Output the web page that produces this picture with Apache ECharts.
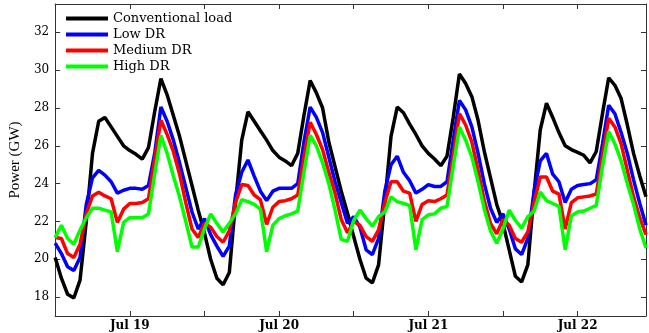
<!DOCTYPE html>
<html>
<head>
<meta charset="utf-8">
<script src="https://cdn.jsdelivr.net/npm/echarts@6/dist/echarts.min.js"></script>
<style>html,body{margin:0;padding:0;background:#fff}#c{width:649px;height:333px}</style>
</head>
<body>
<div id="c"></div>
<script>
const dayLabels = ['Jul 19', 'Jul 20', 'Jul 21', 'Jul 22'];
const yTicks = [18, 20, 22, 24, 26, 28, 30, 32];
const seriesNames = ['Conventional load', 'Low DR', 'Medium DR', 'High DR'];

// hourly values (GW), Jul 19 00:00 .. Jul 22 23:00
const conventional = [
  20.1, 19.0, 18.15, 17.95, 18.9, 22.0, 25.6, 27.3, 27.5, 27.0, 26.5, 26.0,
  25.75, 25.55, 25.3, 25.9, 27.8, 29.55, 28.7, 27.6, 26.5, 25.2, 23.9, 22.6,
  21.4, 20.0, 19.0, 18.65, 19.3, 23.0, 26.3, 27.8, 27.3, 26.8, 26.3, 25.75,
  25.4, 25.2, 24.95, 25.6, 27.6, 29.45, 28.8, 28.0, 26.2, 24.9, 23.6, 22.45,
  21.2, 20.0, 19.0, 18.75, 19.7, 23.0, 26.5, 28.05, 27.75, 27.15, 26.6, 26.0,
  25.6, 25.3, 24.95, 25.45, 27.5, 29.8, 29.3, 28.6, 27.35, 25.7, 24.3, 22.9,
  21.9, 20.5, 19.1, 18.8, 19.7, 23.5, 26.85, 28.25, 27.5, 26.7, 26.0, 25.8,
  25.65, 25.5, 25.1, 25.7, 27.7, 29.6, 29.2, 28.5, 27.1, 25.6, 24.4, 23.3
];
const lowDR = [
  20.85, 20.3, 19.6, 19.4, 20.1, 22.9, 24.3, 24.7, 24.45, 24.1, 23.5, 23.65,
  23.75, 23.75, 23.7, 23.9, 25.6, 28.05, 27.3, 26.3, 25.1, 23.8, 22.5, 21.6,
  22.15, 21.3, 20.7, 20.15, 20.7, 23.4, 24.6, 25.25, 24.4, 23.6, 23.1, 23.6,
  23.75, 23.75, 23.75, 24.0, 26.2, 28.05, 27.5, 26.7, 25.4, 24.1, 23.0, 21.9,
  22.25, 21.7, 20.5, 20.25, 21.1, 23.6, 25.0, 25.45, 24.6, 24.15, 23.5, 23.7,
  23.95, 23.85, 23.85, 24.1, 26.3, 28.4, 27.9, 27.0, 25.6, 24.0, 22.7, 21.95,
  22.4, 21.6, 20.55, 20.25, 21.1, 23.6, 25.2, 25.6, 24.5, 24.1, 23.0, 23.7,
  23.9, 23.95, 24.0, 24.2, 26.1, 28.15, 27.7, 26.7, 25.6, 24.2, 22.95, 21.8
];
const mediumDR = [
  21.15, 21.1, 20.3, 20.1, 20.8, 22.4, 23.35, 23.55, 23.35, 23.2, 21.95, 22.65,
  22.95, 22.95, 23.0, 23.2, 25.3, 27.35, 26.6, 25.7, 24.5, 23.0, 21.6, 21.15,
  21.9, 21.7, 21.2, 20.9, 21.5, 23.0, 23.95, 23.9, 23.4, 23.15, 21.85, 22.75,
  23.05, 23.1, 23.2, 23.4, 25.4, 27.25, 26.6, 25.8, 24.6, 23.5, 22.1, 21.4,
  22.0, 21.8, 21.2, 20.95, 21.55, 23.0, 24.1, 24.1, 23.6, 23.5, 22.0, 22.9,
  23.1, 23.05, 23.2, 23.4, 25.5, 27.7, 27.1, 26.2, 24.7, 23.1, 21.9, 21.35,
  22.1, 21.8, 21.1, 20.9, 21.45, 23.0, 24.35, 24.35, 23.6, 23.45, 21.6, 23.0,
  23.25, 23.3, 23.35, 23.45, 25.5, 27.45, 27.0, 26.1, 24.7, 23.3, 22.2, 21.3
];
const highDR = [
  21.15, 21.8, 21.1, 20.8, 21.55, 22.2, 22.7, 22.7, 22.6, 22.5, 20.4, 21.95,
  22.2, 22.2, 22.2, 22.4, 24.5, 26.55, 25.6, 24.4, 23.3, 22.0, 20.65, 20.65,
  21.6, 22.4, 21.9, 21.45, 21.9, 22.4, 23.15, 23.05, 22.9, 22.65, 20.4, 21.8,
  22.15, 22.3, 22.4, 22.55, 24.6, 26.55, 26.0, 25.1, 24.0, 22.6, 21.05, 20.95,
  22.05, 22.6, 22.15, 21.75, 22.25, 22.5, 23.3, 23.05, 22.95, 22.85, 20.5, 22.1,
  22.35, 22.4, 22.7, 22.8, 24.9, 27.0, 26.3, 25.4, 24.1, 22.65, 21.5, 20.85,
  21.6, 22.6, 22.05, 21.65, 22.25, 22.55, 23.55, 23.1, 22.95, 22.8, 20.5, 22.3,
  22.5, 22.55, 22.7, 22.85, 24.9, 26.75, 26.1, 25.2, 24.0, 22.9, 21.6, 20.6
];

const colors = ['#000000', '#0000ff', '#ff0000', '#00ff00'];
const allData = [conventional, lowDR, mediumDR, highDR];

const axisLineStyle = { color: '#333', width: 1 };
const chart = echarts.init(document.getElementById('c'), null, { renderer: 'canvas' });

const xCommon = {
  type: 'value', min: 0, max: 95, interval: 12,
  axisLine: { show: true, onZero: false, lineStyle: axisLineStyle },
  axisTick: { show: true, inside: true, length: 5, lineStyle: axisLineStyle },
  splitLine: { show: false }
};
const yCommon = {
  type: 'value', min: 17, max: 33.5,
  axisLine: { show: true, onZero: false, lineStyle: axisLineStyle },
  axisTick: { show: true, inside: true, length: 5, customValues: yTicks, lineStyle: axisLineStyle },
  splitLine: { show: false }
};

chart.setOption({
  animation: false,
  backgroundColor: '#fff',
  grid: { left: 52, top: 4, width: 598, height: 312, containLabel: false },
  legend: {
    orient: 'vertical', left: 61, top: 7, itemWidth: 42, itemHeight: 4, itemGap: 3,
    icon: 'rect',
    data: seriesNames,
    textStyle: { fontFamily: 'DejaVu Serif', fontSize: 13, color: '#000' }
  },
  xAxis: [
    Object.assign({}, xCommon, {
      position: 'bottom',
      axisLabel: {
        show: true, margin: 4, color: '#000', fontFamily: 'DejaVu Serif', fontWeight: 'bold', fontSize: 12,
        formatter: function (v) { return (v % 24 === 12) ? dayLabels[(v - 12) / 24] : ''; }
      }
    }),
    Object.assign({}, xCommon, { position: 'top', axisLabel: { show: false } })
  ],
  yAxis: [
    Object.assign({}, yCommon, {
      position: 'left',
      name: 'Power (GW)', nameLocation: 'middle', nameGap: 29,
      nameTextStyle: { fontFamily: 'Liberation Serif', fontSize: 15, color: '#000' },
      axisLabel: { show: true, customValues: yTicks, margin: 6, color: '#000', fontFamily: 'DejaVu Serif', fontSize: 12 }
    }),
    Object.assign({}, yCommon, { position: 'right', axisLabel: { show: false } })
  ],
  series: seriesNames.map(function (name, k) {
    return {
      name: name, type: 'line', xAxisIndex: 0, yAxisIndex: 0,
      showSymbol: false, symbol: 'none', smooth: false,
      lineStyle: { width: 3.5, color: colors[k] },
      itemStyle: { color: colors[k] },
      data: allData[k].map(function (v, i) { return [i, v]; })
    };
  })
});
</script>
</body>
</html>
